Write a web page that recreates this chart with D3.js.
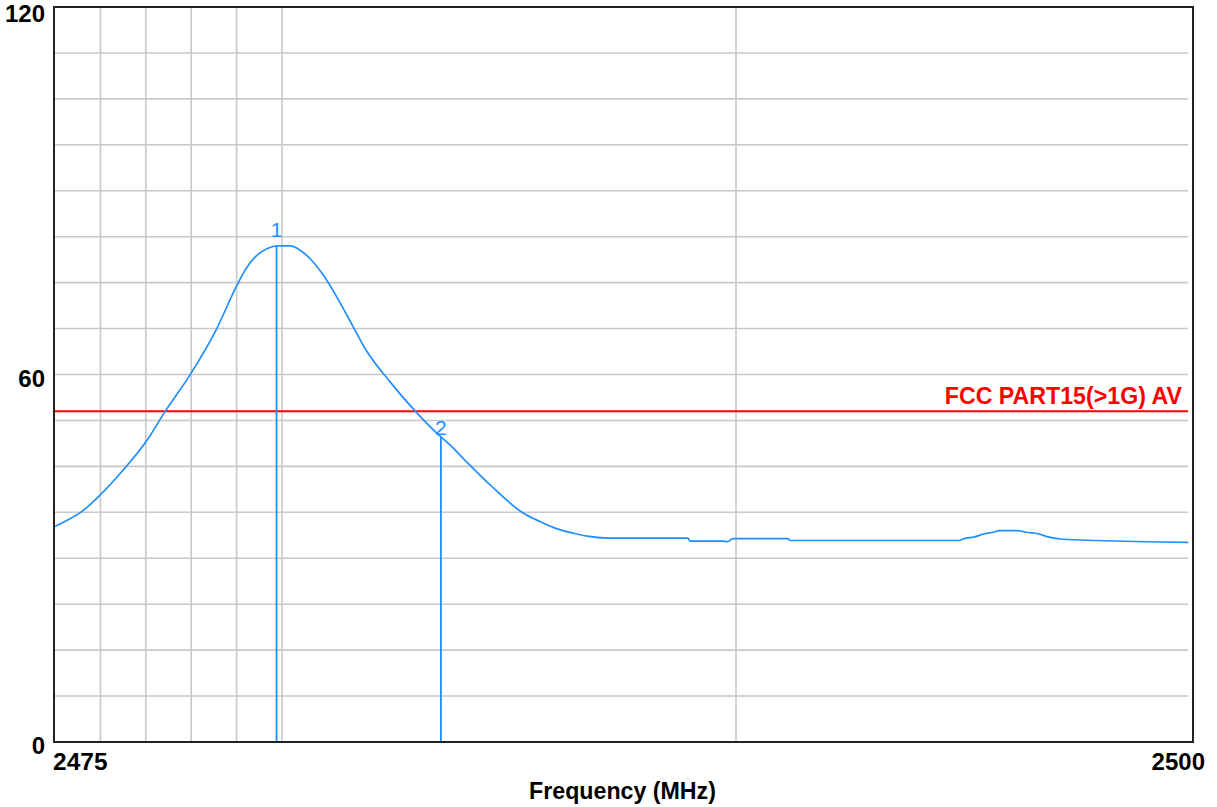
<!DOCTYPE html>
<html>
<head>
<meta charset="utf-8">
<script src="https://cdn.jsdelivr.net/npm/d3@7"></script>
<style>
  html, body { margin: 0; padding: 0; background: #fff; }
  svg { display: block; }
  text { font-family: "Liberation Sans", Arial, sans-serif; }
</style>
</head>
<body>
<svg id="chart" width="1217" height="807"></svg>
<script>
// ---- data ----
const freqMHz = [2475.00, 2475.24, 2475.55, 2475.99, 2476.43, 2477.03, 2477.42, 2477.97, 2478.55, 2478.99,
  2479.20, 2479.41, 2479.69, 2479.89, 2480.18, 2480.40, 2480.62, 2480.95, 2481.28, 2481.56, 2481.85,
  2482.38, 2482.95, 2483.50, 2483.70, 2484.03, 2484.58, 2485.31, 2485.68, 2486.06, 2486.41,
  2486.72, 2487.16, 2488.94, 2488.99, 2489.71, 2489.82, 2489.93, 2491.15, 2491.19, 2494.93,
  2494.98, 2495.26, 2495.48, 2495.64, 2495.81, 2496.19, 2496.43, 2496.65, 2496.87, 2497.20,
  2497.97, 2499.96];
const levelDb = [35.2, 36.1, 37.4, 40.3, 43.8, 49.3, 53.9, 59.9, 67.3, 74.3,
  77.2, 79.2, 80.6, 81.0, 81.0, 80.3, 78.9, 75.8, 71.7, 67.9, 64.0,
  58.8, 53.9, 49.8, 48.5, 46.0, 42.0, 37.4, 36.0, 34.8, 34.1,
  33.6, 33.3, 33.3, 32.8, 32.8, 32.7, 33.2, 33.2, 32.9, 32.9,
  33.1, 33.5, 34.0, 34.2, 34.5, 34.5, 34.2, 34.0, 33.5, 33.1,
  32.9, 32.6];
const limitValue = 54;
const limitLabel = "FCC PART15(>1G) AV";
const markerFreq = [2479.88, 2483.50];
const markerLevel = [81.0, 49.8];
const markerNames = ["1", "2"];
const yTicks = [0, 60, 120];
const yGrid = [7.5, 15, 22.5, 30, 37.5, 45, 52.5, 60, 67.5, 75, 82.5, 90, 97.5, 105, 112.5];
const xGrid = [2476, 2477, 2478, 2479, 2480, 2490];
const xTickLabels = ["2475", "2500"];
const xLabel = "Frequency (MHz)";

// ---- scales ----
const x = d3.scaleLinear().domain([2475, 2500]).range([55, 1190]);
const y = d3.scaleLinear().domain([0, 120]).range([742, 7]);
const svg = d3.select("#chart");

// grid
const gridColor = "#c8c8c8";
svg.append("g").selectAll("line").data(yGrid).join("line")
  .attr("x1", x(2475)).attr("x2", 1188)
  .attr("y1", d => y(d)).attr("y2", d => y(d))
  .attr("stroke", gridColor).attr("stroke-width", 1.6);
svg.append("g").selectAll("line").data(xGrid).join("line")
  .attr("x1", d => x(d)).attr("x2", d => x(d))
  .attr("y1", y(120)).attr("y2", y(0))
  .attr("stroke", gridColor).attr("stroke-width", 1.6);

// limit line
svg.append("line")
  .attr("x1", x(2475)).attr("x2", 1188)
  .attr("y1", y(limitValue)).attr("y2", y(limitValue))
  .attr("stroke", "#ff0000").attr("stroke-width", 1.8);
svg.append("text")
  .attr("x", 1182).attr("y", y(limitValue) - 7)
  .attr("text-anchor", "end")
  .attr("fill", "#ff0000").attr("font-weight", "bold").attr("font-size", 23.2)
  .text(limitLabel);

// trace
const traceColor = "#1e8fff";
const pts = freqMHz.map((f, i) => [f, levelDb[i]]);
svg.append("path")
  .datum(pts)
  .attr("fill", "none").attr("stroke", traceColor).attr("stroke-width", 1.7)
  .attr("d", d3.line().x(d => x(d[0])).y(d => y(d[1])).curve(d3.curveMonotoneX));

// markers
const mk = markerFreq.map((f, i) => ({ f, v: markerLevel[i], n: markerNames[i] }));
svg.append("g").selectAll("line").data(mk).join("line")
  .attr("x1", d => x(d.f)).attr("x2", d => x(d.f))
  .attr("y1", y(0)).attr("y2", d => y(d.v))
  .attr("stroke", traceColor).attr("stroke-width", 1.8);
svg.append("g").selectAll("text").data(mk).join("text")
  .attr("x", d => x(d.f)).attr("y", d => y(d.v) - (d.n === "1" ? 9 : 2))
  .attr("text-anchor", "middle")
  .attr("fill", traceColor).attr("font-size", 21)
  .text(d => d.n);

// frame
svg.append("rect")
  .attr("x", 54).attr("y", y(120))
  .attr("width", 1193 - 54).attr("height", y(0) - y(120))
  .attr("fill", "none").attr("stroke", "#222").attr("stroke-width", 2);

// y tick labels
svg.append("g").selectAll("text").data(yTicks).join("text")
  .attr("x", 45).attr("y", d => d === 120 ? 22 : y(d) + 12)
  .attr("text-anchor", "end")
  .attr("font-weight", "bold").attr("font-size", 24).attr("fill", "#000")
  .text(d => d);

// x tick labels
svg.append("text").attr("x", 53).attr("y", 770)
  .attr("font-weight", "bold").attr("font-size", 24.5).attr("fill", "#000")
  .text(xTickLabels[0]);
svg.append("text").attr("x", 1205).attr("y", 770).attr("text-anchor", "end")
  .attr("font-weight", "bold").attr("font-size", 24).attr("fill", "#000")
  .text(xTickLabels[1]);

// x axis title
svg.append("text").attr("x", (x(2475) + x(2500)) / 2).attr("y", 799)
  .attr("text-anchor", "middle")
  .attr("font-weight", "bold").attr("font-size", 23.2).attr("fill", "#000")
  .text(xLabel);
</script>
</body>
</html>
